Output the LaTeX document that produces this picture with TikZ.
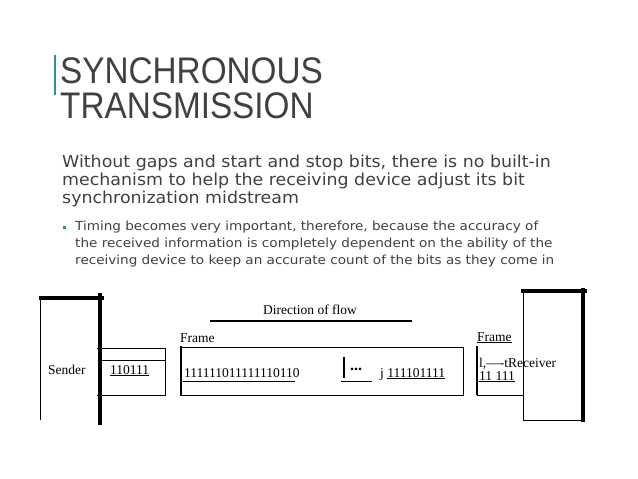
\documentclass[tikz,border=0pt]{standalone}
\usepackage{fontspec}
\setmainfont{Liberation Serif}
\newfontfamily\titlefont{Liberation Sans}
\newfontfamily\bodyfont{DejaVu Sans}
\definecolor{teal1}{HTML}{2E8FA8}
\definecolor{txt}{HTML}{404040}
\begin{document}
\begin{tikzpicture}[x=1pt,y=-1pt,
  thin line/.style={line width=0.8pt},
  thick line/.style={line width=4pt},
  diag/.style={font=\fontsize{13.5}{14}\selectfont, inner sep=0pt, anchor=base west}]
\useasboundingbox (0,0) rectangle (638,479);
\fill[white] (0,0) rectangle (638,479);
\draw[teal1, line width=1.5pt] (55,55) -- (55,95);
\node[anchor=base west, text=txt, font=\titlefont\fontsize{37}{37}\selectfont, inner sep=0, xscale=0.9] (t1) at (60,83) {SYNCHRONOUS};
\node[anchor=base west, text=txt, font=\titlefont\fontsize{37}{37}\selectfont, inner sep=0, xscale=0.9] (t2) at (60,118) {TRANSMISSION};
\node[anchor=north west, text=txt, font=\bodyfont\fontsize{16.5}{18}\selectfont, inner sep=0, align=left, xscale=1.055] (p) at (62,155) {Without gaps and start and stop bits, there is no built-in\\mechanism to help the receiving device adjust its bit\\synchronization midstream};
\fill[teal1] (62.5,225.5) rectangle (65.5,228.5);
\node[anchor=north west, text=txt, font=\bodyfont\fontsize{12.5}{17}\selectfont, inner sep=0, align=left, xscale=1.085] (b) at (75,221) {Timing becomes very important, therefore, because the accuracy of\\the received information is completely dependent on the ability of the\\receiving device to keep an accurate count of the bits as they come in};
% sender
\draw[thin line] (40,420) -- (40,298);
\draw[thick line] (39,298) -- (104,298);
\draw[thick line] (100,293) -- (100,425);
\node[diag] (s) at (48,374) {Sender};
\draw[thin line] (97,348) -- (165,348) -- (165,395) -- (97,395);
\draw[thin line] (100,360) -- (165,360);
\node[diag] (s1) at (110,374) {\underline{110111}};
% direction
\node[diag] (d) at (263,314) {Direction of flow};
\draw[line width=2pt] (210,321) -- (412,321);
% frame
\node[diag] (f1) at (180,342) {Frame};
\draw[thin line] (181,347) -- (463,347) -- (463,395) -- (181,395);
\draw[line width=2.5pt] (181,346) -- (181,396);
\draw[thin line] (183,381) -- (295,381);
\node[diag] (bits) at (184,377) {111111011111110110};
\draw[line width=2.5pt] (344,357) -- (344,378);
\node[diag, font=\fontsize{16}{16}\selectfont] (dots) at (350,370) {\textbf{...}};
\draw[thin line] (341,381) -- (372,381);
\node[diag] (jj) at (380,377) {j \underline{111101111}};
% right frame
\node[diag] (f2) at (477,341) {\underline{Frame}};
\draw[line width=2.5pt] (477,346) -- (477,395);
\draw[thin line] (477,395) -- (523,395);
\node[diag] (rt) at (479,367) {l,----tReceiver};
\node[diag] (r2) at (479,380) {\underline{11 111}};
% receiver
\draw[thin line] (523,293) -- (523,420) -- (584,420);
\draw[thick line] (521,291) -- (587,291);
\draw[thick line] (583,288) -- (583,422);
\end{tikzpicture}
\end{document}
